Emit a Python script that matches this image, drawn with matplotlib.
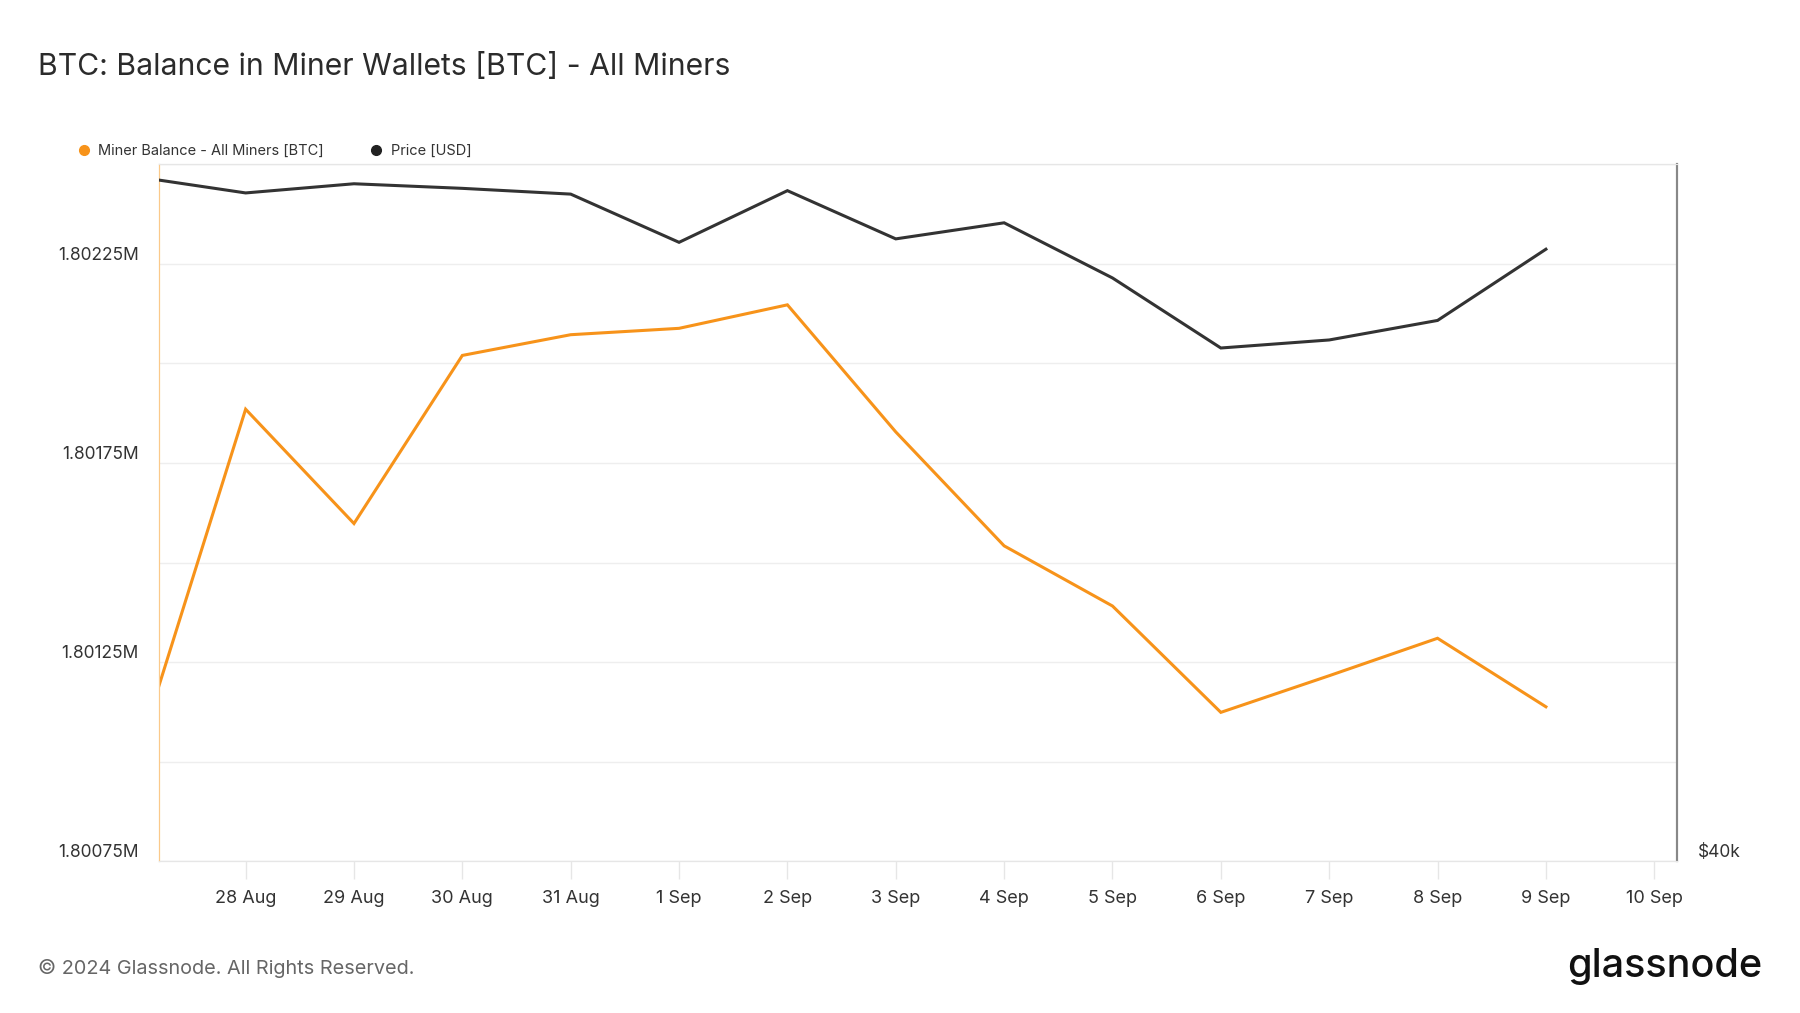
import matplotlib
matplotlib.use("Agg")
import matplotlib.pyplot as plt
import matplotlib.dates as mdates
from matplotlib.lines import Line2D
import numpy as np

# data (daily values)
dates = ["2024-08-27", "2024-08-28", "2024-08-29", "2024-08-30", "2024-08-31",
         "2024-09-01", "2024-09-02", "2024-09-03", "2024-09-04", "2024-09-05",
         "2024-09-06", "2024-09-07", "2024-09-08", "2024-09-09"]
miner_balance = [1801017, 1801885, 1801598, 1802020, 1802072, 1802088, 1802147,
                 1801828, 1801542, 1801391, 1801124, 1801216, 1801310, 1801138]
price_usd = [58655, 58217, 58467, 58342, 58185, 56871, 58279,
             56965, 57403, 55900, 53991, 54210, 54742, 56683]

x_ticks = ["2024-08-28", "2024-08-29", "2024-08-30", "2024-08-31", "2024-09-01",
           "2024-09-02", "2024-09-03", "2024-09-04", "2024-09-05", "2024-09-06",
           "2024-09-07", "2024-09-08", "2024-09-09", "2024-09-10"]
y_label_ticks = [1800750, 1801250, 1801750, 1802250]
y_grid_ticks = [1801000, 1801500, 1802000, 1802500]

ORANGE = "#f7931a"
DARK = "#333333"
FONT = ["Inter", "DejaVu Sans"]
plt.rcParams["font.family"] = FONT

x = mdates.date2num(np.array(dates, dtype="datetime64[D]"))
xt = mdates.date2num(np.array(x_ticks, dtype="datetime64[D]"))

fig = plt.figure(figsize=(18, 10.13), dpi=100)
ax = fig.add_axes([0.0886, 0.1497, 0.8432, 0.6882])
ax2 = ax.twinx()

ax.plot(x, miner_balance, color=ORANGE, lw=2.2, solid_joinstyle="miter", zorder=3)
ax2.plot(x, price_usd, color=DARK, lw=2.2, solid_joinstyle="miter", zorder=3)

ax.set_xlim(x[0] + 0.205, xt[-1] + 0.212)
ax.set_ylim(1800750, 1802500)
ax2.set_ylim(40000, 59000)

# left axis
ax.set_yticks(y_label_ticks)
ax.set_yticks(y_grid_ticks, minor=True)
ax.set_yticklabels([f"{v/1e6:.5f}M" for v in y_label_ticks])
for lbl in ax.get_yticklabels():
    lbl.set_verticalalignment("bottom")
ax.tick_params(axis="y", which="both", length=0, pad=15, labelsize=12.5, labelcolor=DARK)
ax.grid(axis="y", which="both", color="#eeeeee", lw=1)
ax.set_axisbelow(True)

# right axis
ax2.set_yticks([40000])
ax2.set_yticklabels(["$40k"])
for lbl in ax2.get_yticklabels():
    lbl.set_verticalalignment("bottom")
ax2.tick_params(axis="y", length=0, pad=15, labelsize=12.5, labelcolor=DARK)

# x axis
ax.set_xticks(xt)
ax.set_xticklabels([f"{int(d[-2:])} {'Aug' if d[5:7] == '08' else 'Sep'}" for d in x_ticks])
ax.tick_params(axis="x", length=13, width=1, color="#e6e6e6", pad=7.5,
               labelsize=13, labelcolor=DARK)

for a in (ax, ax2):
    a.spines["top"].set_color("#e6e6e6")
    a.spines["bottom"].set_color("#e6e6e6")
    a.spines["left"].set_color("#fbc98a")
    a.spines["right"].set_color("#888888")
    a.spines["right"].set_linewidth(1.5)

fig.text(0.021, 0.934, "BTC: Balance in Miner Wallets [BTC] - All Miners",
         fontsize=21.7, color="#2b2b2b", va="center", ha="left")

handles = [Line2D([], [], marker="o", ls="", color=ORANGE, markersize=7),
           Line2D([], [], marker="o", ls="", color="#222222", markersize=7)]
fig.legend(handles, ["Miner Balance - All Miners [BTC]", "Price [USD]"],
           loc="center left", bbox_to_anchor=(0.031, 0.8507), ncol=2, frameon=False,
           fontsize=10.5, handletextpad=0.0, columnspacing=2.6, labelcolor=DARK)

fig.text(0.021, 0.044, "\u00a9 2024 Glassnode. All Rights Reserved.",
         fontsize=14.3, color="#666666", va="center", ha="left")
fig.text(0.979, 0.046, "glassnode", fontsize=28.5, fontweight="medium",
         color="#111111", va="center", ha="right")

fig.savefig("out.png", dpi=100, facecolor="white")
